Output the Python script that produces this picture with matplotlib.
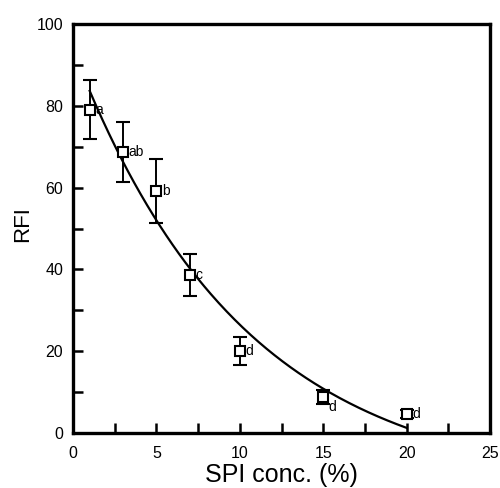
import numpy as np
import matplotlib
matplotlib.use("Agg")
import matplotlib.pyplot as plt
from matplotlib.ticker import MultipleLocator

plt.rcParams["font.family"] = ["Liberation Sans", "DejaVu Sans"]

# measured points
conc = [1, 3, 5, 7, 10, 15, 20]
rfi = [79.0, 68.7, 59.2, 38.6, 20.0, 8.8, 4.6]
rfi_err = [7.2, 7.3, 7.8, 5.1, 3.4, 1.6, 1.0]
letters = ["a", "ab", "b", "c", "d", "d", "d"]
letter_offsets = [(4, -3), (4, -3), (4, -3), (4, -3), (4, -3), (4, -10), (4, -3)]

# exponential decay fit: y = A*exp(-k*x) + C
fit_A, fit_k, fit_C = 107.6, 0.098, -13.9
fit_range = (1, 20)

fig = plt.figure(figsize=(5.0, 4.88), dpi=100)
ax = fig.add_axes([0.146, 0.1127, 0.834, 0.838])

xs = np.linspace(fit_range[0], fit_range[1], 200)
ax.plot(xs, fit_A * np.exp(-fit_k * xs) + fit_C, color="black", lw=1.6, zorder=2)

ax.errorbar(conc, rfi, yerr=rfi_err, fmt="s", mfc="white", mec="black", mew=1.5,
            ms=7.5, ecolor="black", elinewidth=1.4, capsize=5, capthick=1.4, zorder=3)

for x, y, t, off in zip(conc, rfi, letters, letter_offsets):
    ax.annotate(t, (x, y), xytext=off, textcoords="offset points", fontsize=10)

ax.set_xlim(0, 25)
ax.set_ylim(0, 100)
ax.xaxis.set_major_locator(MultipleLocator(5))
ax.xaxis.set_minor_locator(MultipleLocator(2.5))
ax.yaxis.set_major_locator(MultipleLocator(20))
ax.yaxis.set_minor_locator(MultipleLocator(10))
ax.tick_params(which="both", direction="in", length=7, width=1.8, labelsize=11.5, pad=7)
ax.tick_params(axis="x", which="both", pad=9)
ax.tick_params(which="both", top=False, right=False)
for s in ax.spines.values():
    s.set_linewidth(2.4)

ax.set_xlabel("SPI conc. (%)", fontsize=18, labelpad=2)
ax.set_ylabel("RFI", fontsize=16)
ax.yaxis.set_label_coords(-0.095, 0.51)

fig.savefig("out.png", dpi=100)
